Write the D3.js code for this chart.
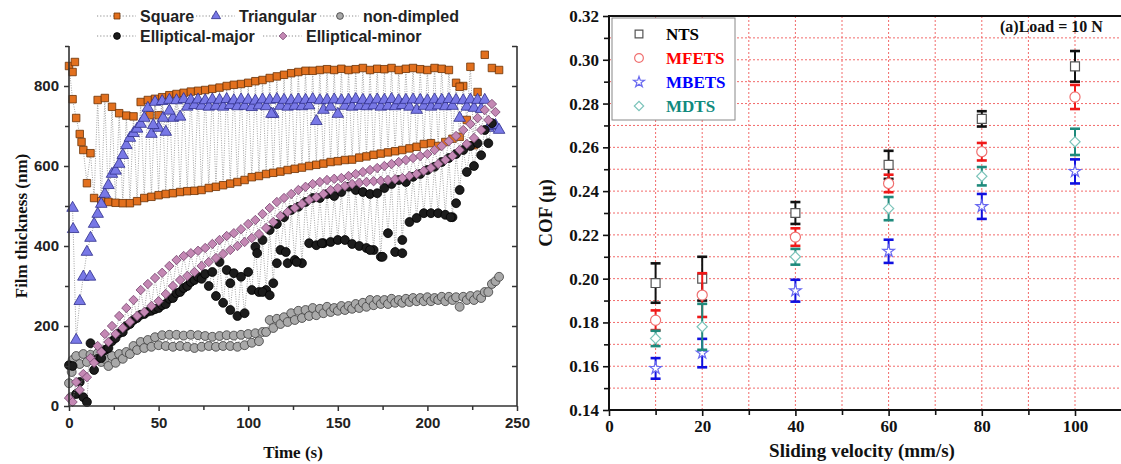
<!DOCTYPE html>
<html lang="en">
<head>
<meta charset="UTF-8">
<title>Film thickness and COF</title>
<script src="https://cdn.jsdelivr.net/npm/d3@7"></script>
<style>
  body { margin: 0; background: #fff; }
  svg { display: block; }
  .sans { font-family: "Liberation Sans", Arial, sans-serif; font-weight: bold; }
  .serif { font-family: "Liberation Serif", "Times New Roman", serif; font-weight: bold; }
</style>
</head>
<body>
<svg id="svg" width="1121" height="464"></svg>
<script>
// ---------- left panel: film thickness vs time ----------
// two sampling grids (s): band A and band B points alternate in time
const gridA = [0,4,8,12,16,20,24,28,32,36, 40,44,48,52,56,60,64,68,72,76,
  80,84,88,92,96,100,104,108,112,116, 120,124,128,132,136,140,144,148,152,156,
  160,164,168,172,176,180,184,188,192,196, 200,204,208,212,216,220,224,228,232,236, 240];
const gridB = [2,6,10,14,18,22,26,30,34,38, 42,46,50,54,58,62,66,70,74,78,
  82,86,90,94,98,102,106,110,114,118, 122,126,130,134,138,142,146,150,154,158,
  162,166,170,174,178,182,186,190,194,198, 202,206,210,214,218,222,226,230,234,238];

const squareA = [850,720,640,632,765,770,748,732,726,724, 760,765,768,772,777,780,783,786,788,790,
  793,796,800,803,805,808,812,815,820,824, 828,832,835,838,838,840,842,840,843,840,
  842,845,840,843,842,845,840,843,845,842, 840,845,843,840,808,800,848,785,878,845, 840];
const squareB = [767,680,557,520,512,510,508,507,507,512, 520,523,527,530,532,535,537,538,540,545,
  548,552,556,560,565,572,575,580,583,586, 590,593,596,600,603,606,610,612,615,616,
  621,624,628,631,634,637,640,644,648,655, 657,650,660,668,673,715,652,null,null,null];
const squareExtra = [[2,835],[3.3,860],[7,660],[45,727],[50,727],[218,798]];

const triA = [null,165,323,420,480,530,580,605,652,682, 705,745,760,762,765,764,767,765,766,764,
  766,765,767,764,766,765,763,766,765,767, 765,764,766,765,767,764,765,766,764,765,
  767,765,764,766,765,767,764,765,766,765, 764,766,765,767,765,764,766,765,765,700, 690];
const triB = [495,262,385,455,505,552,588,627,670,693, 720,680,695,685,720,723,748,752,750,748,
  750,748,752,749,750,747,751,749,730,750, 748,750,749,751,712,740,748,730,750,748,
  750,749,751,748,750,749,752,748,740,750, 748,751,749,750,720,748,745,742,695,702];
const triExtra = [[2.3,442],[11.7,323],[47,702],[52.5,720],[56,738],[113,730]];

const plainA = [57,125,130,128,132,118,125,130,135,150, 160,165,172,177,178,178,176,178,177,175,
  173,175,177,176,178,180,182,185,215,218, 222,232,238,240,245,243,248,245,250,250,
  255,258,265,265,265,268,265,268,270,270, 272,270,273,273,272,273,275,277,285,305, 323];
const plainB = [115,105,110,118,110,100,108,118,130,140, 145,148,152,150,148,150,148,145,148,150,
  148,150,150,148,152,158,162,185,195,205, 210,215,220,225,227,232,235,238,240,243,
  245,248,252,255,255,258,258,260,262,262, 262,265,262,265,248,265,265,270,285,312];
const plainExtra = [[1,22],[1.5,85]];

const majorA = [102,30,22,157,118,140,162,182,200,215, 228,236,242,252,268,282,295,310,323,330,
  335,360,340,332,323,335,398,415,440,455, 472,490,498,510,520,520,530,525,535,548,
  540,535,530,532,545,555,565,560,573,580, 590,598,610,620,630,640,650,657,690,707, null];
const majorB = [100,60,10,90,120,145,170,185,205,220, 230,238,245,255,270,285,300,315,318,300,
  275,258,240,225,232,290,285,290,307,390, 357,365,357,407,402,407,410,415,415,405,
  400,395,390,373,432,385,415,460,470,482, 482,482,478,472,540,585,600,627,657,null];
const majorExtra = [[90,307],[105,382],[108,285],[112,277],[116,357],[121,385],[127,360],
  [141,407],[168,390],[175,373],[186,382],[213,472],[216,507]];

const minorA = [20,60,80,120,150,180,200,225,245,265, 290,305,320,333,350,365,375,382,388,395,
  405,415,425,432,442,455,465,480,495,510, 520,530,540,548,555,560,565,568,570,575,
  580,585,590,595,600,605,610,615,620,625, 630,640,650,662,675,690,705,720,740,755, null];
const minorB = [10,40,72,108,135,160,180,195,210,225, 235,250,262,280,300,315,325,335,350,360,
  370,380,390,400,410,420,430,445,460,475, 485,495,505,515,522,530,540,545,550,555,
  558,560,562,563,565,567,570,575,580,588, 595,605,615,625,640,655,670,690,715,735];

const filmSeries = [
  {name: "Square", a: squareA, b: squareB, extra: squareExtra, shape: "square", fill: "#e2701e", stroke: "#6b3206"},
  {name: "Triangular", a: triA, b: triB, extra: triExtra, shape: "triangle", fill: "#7878e6", stroke: "#2e2e8c"},
  {name: "non-dimpled", a: plainA, b: plainB, extra: plainExtra, shape: "circle", fill: "#a9a9a9", stroke: "#3c3c3c"},
  {name: "Elliptical-major", a: majorA, b: majorB, extra: majorExtra, shape: "circle", fill: "#1c1c1c", stroke: "#000"},
  {name: "Elliptical-minor", a: minorA, b: minorB, extra: [], shape: "diamond", fill: "#c488b4", stroke: "#7a4a72"}
];

// ---------- right panel: COF vs sliding velocity ----------
const velocity = [10, 20, 40, 60, 80, 100];
const ntsMean = [0.198, 0.200, 0.230, 0.252, 0.273, 0.297];
const ntsErr = [0.009, 0.010, 0.005, 0.0064, 0.0035, 0.007];
const mfetsMean = [0.181, 0.1925, 0.219, 0.2435, 0.258, 0.283];
const mfetsErr = [0.0045, 0.010, 0.004, 0.004, 0.004, 0.0055];
const mbetsMean = [0.159, 0.166, 0.1945, 0.2125, 0.233, 0.249];
const mbetsErr = [0.0047, 0.0065, 0.005, 0.0053, 0.0057, 0.0055];
const mdtsMean = [0.1727, 0.178, 0.210, 0.232, 0.2468, 0.2625];
const mdtsErr = [0.0035, 0.0105, 0.0036, 0.0053, 0.0042, 0.006];

const cofSeries = [
  {name: "NTS", mean: ntsMean, err: ntsErr, shape: "square", bar: "#111", mark: "#555", text: "#000"},
  {name: "MFETS", mean: mfetsMean, err: mfetsErr, shape: "circle", bar: "#f01818", mark: "#f07070", text: "#ff0000"},
  {name: "MBETS", mean: mbetsMean, err: mbetsErr, shape: "star", bar: "#1010e0", mark: "#6a6af0", text: "#0000ff"},
  {name: "MDTS", mean: mdtsMean, err: mdtsErr, shape: "diamond", bar: "#1f8a7c", mark: "#7cc4ba", text: "#118a7e"}
];

const svg = d3.select("#svg");
svg.append("rect").attr("width", 1121).attr("height", 464).attr("fill", "#fff");

function symbolPath(shape, size) {
  if (shape === "square") return d3.symbol(d3.symbolSquare, size)();
  if (shape === "triangle") return d3.symbol(d3.symbolTriangle, size)();
  if (shape === "circle") return d3.symbol(d3.symbolCircle, size)();
  if (shape === "star") return d3.symbol(d3.symbolStar, size)();
  return d3.symbol(d3.symbolSquare, size)();
}
function symbolRotate(shape) { return shape === "diamond" ? " rotate(45)" : ""; }

// ===== left panel =====
const xL = d3.scaleLinear().domain([0, 250]).range([69, 517]);
const yL = d3.scaleLinear().domain([0, 900]).range([406, 46]);
const left = svg.append("g").attr("class", "left_panel");

const plotL = left.append("g");
filmSeries.forEach(s => {
  const pts = [];
  gridA.forEach((t, i) => pts.push({t: t, v: s.a[i]}));
  gridB.forEach((t, i) => pts.push({t: t, v: s.b[i]}));
  pts.sort((p, q) => p.t - q.t);
  const line = d3.line().defined(d => d.v != null).x(d => xL(d.t)).y(d => yL(d.v));
  plotL.append("path").attr("d", line(pts))
    .attr("fill", "none").attr("stroke", "#8c8c8c").attr("stroke-width", 0.8)
    .attr("stroke-dasharray", "1,1.4");
  const marks = pts.filter(d => d.v != null).concat(s.extra.map(e => ({t: e[0], v: e[1]})));
  const size = s.shape === "diamond" ? 44 : (s.shape === "triangle" ? 58 : (s.shape === "square" ? 56 : 62));
  plotL.append("g").selectAll("path").data(marks).join("path")
    .attr("d", symbolPath(s.shape, size))
    .attr("transform", d => `translate(${xL(d.t)},${yL(d.v)})` + symbolRotate(s.shape))
    .attr("fill", s.fill).attr("stroke", s.stroke).attr("stroke-width", 0.8);
});

function styleAxis(g, cls) {
  g.select(".domain").remove();
  g.selectAll("line").attr("stroke", "#333").attr("stroke-width", 1.5);
  g.selectAll("text").attr("class", cls).attr("fill", "#222");
}
const axL = left.append("g");
axL.append("g").attr("transform", "translate(0,406)")
  .call(d3.axisBottom(xL).tickValues([0, 50, 100, 150, 200, 250]).tickSize(5).tickPadding(6))
  .call(g => styleAxis(g, "sans")).selectAll("text").attr("font-size", 15);
axL.append("g").attr("transform", "translate(0,406)")
  .call(d3.axisBottom(xL).tickValues([25, 75, 125, 175, 225]).tickSize(4).tickFormat(""))
  .call(g => styleAxis(g, "sans"));
axL.append("g").attr("transform", "translate(69,0)")
  .call(d3.axisLeft(yL).tickValues([0, 200, 400, 600, 800]).tickSize(5).tickPadding(5))
  .call(g => styleAxis(g, "sans")).selectAll("text").attr("font-size", 15);
axL.append("g").attr("transform", "translate(69,0)")
  .call(d3.axisLeft(yL).tickValues([100, 300, 500, 700, 900]).tickSize(4).tickFormat(""))
  .call(g => styleAxis(g, "sans"));
axL.append("g").attr("transform", "translate(517,0)")
  .call(d3.axisLeft(yL).tickValues([100, 200, 300, 400, 500, 600, 700, 800, 900]).tickSize(5).tickFormat(""))
  .call(g => styleAxis(g, "sans"));
axL.append("path").attr("d", `M${xL(0)},${yL(900)}V${yL(0)}H${xL(250)}V${yL(900)}`)
  .attr("fill", "none").attr("stroke", "#333").attr("stroke-width", 1.6);

left.append("text").attr("class", "serif").attr("font-size", 17).attr("fill", "#111")
  .attr("text-anchor", "middle").attr("transform", "translate(27,226) rotate(-90)")
  .text("Film thickness (nm)");
left.append("text").attr("class", "serif").attr("font-size", 17).attr("fill", "#111")
  .attr("text-anchor", "middle").attr("x", 293).attr("y", 458).text("Time (s)");

// legend (two rows)
const legendL = [
  {s: 0, x: 117, y: 16}, {s: 1, x: 216, y: 16}, {s: 2, x: 340, y: 16},
  {s: 3, x: 117, y: 36}, {s: 4, x: 283, y: 36}
];
const legG = left.append("g");
legendL.forEach(p => {
  const s = filmSeries[p.s];
  legG.append("line").attr("x1", p.x - 20).attr("x2", p.x + 19).attr("y1", p.y).attr("y2", p.y)
    .attr("stroke", "#8c8c8c").attr("stroke-width", 1).attr("stroke-dasharray", "1.2,2");
  legG.append("path").attr("d", symbolPath(s.shape, s.shape === "diamond" ? 30 : 36))
    .attr("transform", `translate(${p.x},${p.y})` + symbolRotate(s.shape))
    .attr("fill", s.fill).attr("stroke", s.stroke).attr("stroke-width", 0.8);
  legG.append("text").attr("class", "sans").attr("font-size", 16).attr("fill", "#222")
    .attr("x", p.x + 23).attr("y", p.y + 5.5).text(s.name);
});

// ===== right panel =====
const xR = d3.scaleLinear().domain([0, 110]).range([609, 1121.6]);
const yR = d3.scaleLinear().domain([0.14, 0.32]).range([410, 16]);
const right = svg.append("g").attr("class", "right_panel");

const gridG = right.append("g");
gridG.selectAll(".hgrid").data(d3.range(15, 32).map(v => v / 100)).join("line")
  .attr("x1", xR(0)).attr("x2", xR(110)).attr("y1", d => yR(d)).attr("y2", d => yR(d))
  .attr("stroke", "#f26a6a").attr("stroke-width", 1).attr("stroke-dasharray", "2,2");
gridG.selectAll(".vgrid").data(d3.range(10, 111, 10)).join("line")
  .attr("x1", d => xR(d)).attr("x2", d => xR(d)).attr("y1", yR(0.14)).attr("y2", yR(0.32))
  .attr("stroke", "#f26a6a").attr("stroke-width", 1).attr("stroke-dasharray", "2,2");

const dataR = right.append("g");
cofSeries.forEach(s => {
  const g = dataR.append("g");
  const pts = velocity.map((v, i) => ({x: v, m: s.mean[i], e: s.err[i]}));
  g.selectAll(".bar").data(pts).join("line")
    .attr("x1", d => xR(d.x)).attr("x2", d => xR(d.x))
    .attr("y1", d => yR(d.m - d.e)).attr("y2", d => yR(d.m + d.e))
    .attr("stroke", s.bar).attr("stroke-width", 2);
  [-1, 1].forEach(sign => {
    g.selectAll(".cap" + sign).data(pts).join("line")
      .attr("x1", d => xR(d.x) - 5).attr("x2", d => xR(d.x) + 5)
      .attr("y1", d => yR(d.m + sign * d.e)).attr("y2", d => yR(d.m + sign * d.e))
      .attr("stroke", s.bar).attr("stroke-width", 2.6);
  });
  const size = s.shape === "star" ? 42 : (s.shape === "diamond" ? 52 : 80);
  g.selectAll(".mk").data(pts).join("path")
    .attr("d", symbolPath(s.shape, size))
    .attr("transform", d => `translate(${xR(d.x)},${yR(d.m)})` + symbolRotate(s.shape))
    .attr("fill", "#fff").attr("stroke", s.mark).attr("stroke-width", 1.2);
});

const axR = right.append("g");
function styleAxisR(g) {
  g.select(".domain").remove();
  g.selectAll("line").attr("stroke", "#111").attr("stroke-width", 1.6);
  g.selectAll("text").attr("class", "serif").attr("fill", "#111").attr("font-size", 17);
}
axR.append("g").attr("transform", "translate(0,410)")
  .call(d3.axisBottom(xR).tickValues([0, 20, 40, 60, 80, 100]).tickSize(6).tickPadding(4))
  .call(styleAxisR);
axR.append("g").attr("transform", "translate(0,410)")
  .call(d3.axisBottom(xR).tickValues([10, 30, 50, 70, 90]).tickSize(5).tickFormat(""))
  .call(styleAxisR);
axR.append("g").attr("transform", "translate(609,0)")
  .call(d3.axisLeft(yR).tickValues([0.14, 0.16, 0.18, 0.20, 0.22, 0.24, 0.26, 0.28, 0.30, 0.32])
    .tickFormat(d3.format(".2f")).tickSize(6).tickPadding(4))
  .call(styleAxisR);
axR.append("g").attr("transform", "translate(609,0)")
  .call(d3.axisLeft(yR).tickValues([0.15, 0.17, 0.19, 0.21, 0.23, 0.25, 0.27, 0.29, 0.31]).tickSize(5).tickFormat(""))
  .call(styleAxisR);
axR.append("path").attr("d", `M${xR(110)},${yR(0.32)}H${xR(0)}V${yR(0.14)}H${xR(110)}`)
  .attr("fill", "none").attr("stroke", "#111").attr("stroke-width", 2);

right.append("text").attr("class", "serif").attr("font-size", 19).attr("fill", "#111")
  .attr("text-anchor", "middle").attr("transform", "translate(552,213) rotate(-90)").text("COF (μ)");
right.append("text").attr("class", "serif").attr("font-size", 19).attr("fill", "#111")
  .attr("text-anchor", "middle").attr("x", 862).attr("y", 457).text("Sliding velocity (mm/s)");
right.append("text").attr("class", "serif").attr("font-size", 16).attr("fill", "#111")
  .attr("x", 1000).attr("y", 32).text("(a)Load = 10 N");

// legend box
const legR = right.append("g");
legR.append("rect").attr("x", 612).attr("y", 18).attr("width", 123).attr("height", 102)
  .attr("fill", "#fff").attr("stroke", "#888").attr("stroke-width", 1);
cofSeries.forEach((s, i) => {
  const y = 34 + i * 24;
  legR.append("path").attr("d", symbolPath(s.shape, s.shape === "diamond" ? 44 : (s.shape === "star" ? 36 : 60)))
    .attr("transform", `translate(639,${y})` + symbolRotate(s.shape))
    .attr("fill", "#fff").attr("stroke", s.mark).attr("stroke-width", 1.2);
  legR.append("text").attr("class", "serif").attr("font-size", 17).attr("fill", s.text)
    .attr("x", 666).attr("y", y + 6).text(s.name);
});
</script>
</body>
</html>
